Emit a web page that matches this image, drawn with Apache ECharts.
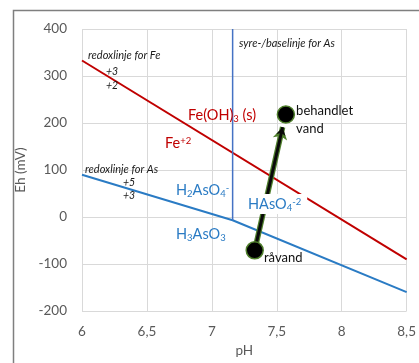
<!DOCTYPE html>
<html>
<head>
<meta charset="utf-8">
<script src="https://cdn.jsdelivr.net/npm/echarts@6/dist/echarts.min.js"></script>
<style>
html,body{margin:0;padding:0;background:#fff;}
#c{width:419px;height:363px;}
</style>
</head>
<body>
<div id="c"></div>
<script>
// ---- data ----
const xTickValues = [6, 6.5, 7, 7.5, 8, 8.5];
const yTickValues = [-200, -100, 0, 100, 200, 300, 400];
const feRedoxPH = [6, 8.5];
const feRedoxEh = [333, -90];
const asRedoxPH = [6, 7.16, 8.5];
const asRedoxEh = [90, -7, -160];
const asAcidBasePH = [7.16, 7.16];
const asAcidBaseEh = [400, -7];
const samplePH = [7.33, 7.57];
const sampleEh = [-71, 218];
const sampleNames = ['råvand', 'behandlet\nvand'];
const arrowPH = [7.33, 7.545];
const arrowEh = [-71, 191];

const RED = '#c00000', BLUE = '#2a7bc4', VBLUE = '#4472c4', GREEN = '#4f7f2c';
const FONT = 'Lato, "Open Sans", sans-serif';

const zip = (a, b) => a.map((v, i) => [v, b[i]]);

const chart = echarts.init(document.getElementById('c'));

function txt(x, y, text, rich, extra) {
  return Object.assign({
    type: 'text', x: x, y: y, z: 50,
    style: { text: text, rich: rich, fontFamily: FONT, verticalAlign: 'middle', align: 'left' }
  }, extra || {});
}
const it = (size) => ({ fontSize: size, fontStyle: 'italic', fontFamily: FONT, fill: '#1a1a1a' });
const redMain = { fontSize: 14.5, fontFamily: FONT, fill: RED, lineHeight: 20, verticalAlign: 'middle' };
const redSub = { fontSize: 9.5, fontFamily: FONT, fill: RED, lineHeight: 20, verticalAlign: 'bottom', padding: [0, 0, 1, 0] };
const redSup = { fontSize: 9.5, fontFamily: FONT, fill: RED, lineHeight: 20, verticalAlign: 'top', padding: [3, 0, 0, 0] };
const bMain = { fontSize: 14.5, fontFamily: FONT, fill: BLUE, lineHeight: 20, verticalAlign: 'middle' };
const bSub = { fontSize: 9.5, fontFamily: FONT, fill: BLUE, lineHeight: 20, verticalAlign: 'bottom', padding: [0, 0, 1, 0] };
const bSup = { fontSize: 9.5, fontFamily: FONT, fill: BLUE, lineHeight: 20, verticalAlign: 'top', padding: [3, 0, 0, 0] };

const arrowSeg = [[{ coord: [arrowPH[0], arrowEh[0]] }, { coord: [arrowPH[1], arrowEh[1]] }]];

const option = {
  animation: false,
  backgroundColor: '#fff',
  grid: { left: 82, right: 10.5, top: 29, bottom: 52 },
  xAxis: {
    type: 'value', min: 6, max: 8.5, interval: 0.5,
    name: 'pH', nameLocation: 'middle', nameGap: 29,
    nameTextStyle: { color: '#595959', fontSize: 13.5, fontFamily: FONT },
    axisLine: { show: false }, axisTick: { show: false },
    axisLabel: {
      color: '#595959', fontSize: 13.5, fontFamily: FONT, margin: 14,
      formatter: v => xTickValues.includes(v) ? String(v).replace('.', ',') : ''
    },
    splitLine: { show: true, lineStyle: { color: '#d9d9d9', width: 1 } }
  },
  yAxis: {
    type: 'value', min: -200, max: 400, interval: 100,
    name: 'Eh (mV)', nameLocation: 'middle', nameGap: 46, nameRotate: 90,
    nameTextStyle: { color: '#595959', fontSize: 13.5, fontFamily: FONT },
    axisLine: { show: false }, axisTick: { show: false },
    axisLabel: {
      color: '#595959', fontSize: 13.5, fontFamily: FONT, margin: 15,
      formatter: v => yTickValues.includes(v) ? String(v) : ''
    },
    splitLine: { show: true, lineStyle: { color: '#d9d9d9', width: 1 } }
  },
  series: [
    {
      type: 'line', data: zip(feRedoxPH, feRedoxEh), symbol: 'none', z: 3,
      lineStyle: { color: RED, width: 2 }
    },
    {
      type: 'line', data: zip(asRedoxPH, asRedoxEh), symbol: 'none', z: 3,
      lineStyle: { color: BLUE, width: 2 }
    },
    {
      type: 'line', data: zip(asAcidBasePH, asAcidBaseEh), symbol: 'none', z: 3,
      lineStyle: { color: VBLUE, width: 1.5 }
    },
    {
      type: 'line', data: [], z: 5,
      markLine: {
        silent: true, symbol: ['none', 'arrow'], symbolSize: [11, 12], z: 5,
        label: { show: false },
        lineStyle: { color: GREEN, width: 5.5, type: 'solid', opacity: 1 },
        data: arrowSeg
      }
    },
    {
      type: 'line', data: [], z: 6,
      markLine: {
        silent: true, symbol: ['none', 'arrow'], symbolSize: [7, 8], z: 6,
        label: { show: false },
        lineStyle: { color: '#0a0a0a', width: 3, type: 'solid', opacity: 1 },
        data: arrowSeg
      }
    },
    {
      type: 'scatter', z: 10, symbolSize: 17,
      data: zip(samplePH, sampleEh).map((p, i) => ({
        value: p, name: sampleNames[i],
        label: i === 0 ? { offset: [-1, 7] } : { offset: [0, 5] }
      })),
      itemStyle: { color: '#000', borderColor: GREEN, borderWidth: 1.5, opacity: 1 },
      label: {
        show: true, position: 'right', distance: 1,
        formatter: p => p.name, color: '#111', fontSize: 13, fontFamily: FONT, lineHeight: 18
      }
    }
  ],
  graphic: [
    { type: 'polyline', z: 100, shape: { points: [[13.5, 363], [13.5, 10.5], [419, 10.5]] },
      style: { stroke: '#7f7f7f', lineWidth: 1.5, fill: null } },
    txt(88, 55, '{i|redoxlinje for Fe}', { i: it(11) }),
    txt(106, 72, '{i|+3}', { i: it(10.5) }),
    txt(106, 86, '{i|+2}', { i: it(10.5) }),
    txt(85, 169, '{i|redoxlinje for As}', { i: it(11) }),
    txt(123, 183, '{i|+5}', { i: it(10.5) }),
    txt(123, 196, '{i|+3}', { i: it(10.5) }),
    txt(239, 43, '{i|syre-/baselinje for As}', { i: it(11) }),
    txt(188, 115, '{a|Fe(OH)}{s|3}{a| (s)}', { a: redMain, s: redSub }),
    txt(165, 143, '{a|Fe}{p|+2}', { a: redMain, p: redSup }),
    txt(176, 190, '{a|H}{s|2}{a|AsO}{s|4}{p|-}', { a: bMain, s: bSub, p: bSup }),
    txt(176, 234, '{a|H}{s|3}{a|AsO}{s|3}', { a: bMain, s: bSub }),
    {
      type: 'text', x: 246, y: 204, z: 50,
      style: {
        text: '{a|HAsO}{s|4}{p|-2}', rich: { a: bMain, s: bSub, p: bSup },
        verticalAlign: 'middle', align: 'left',
        backgroundColor: '#fff', padding: [0, 6, 0, 2]
      }
    }
  ]
};
chart.setOption(option);
</script>
</body>
</html>
